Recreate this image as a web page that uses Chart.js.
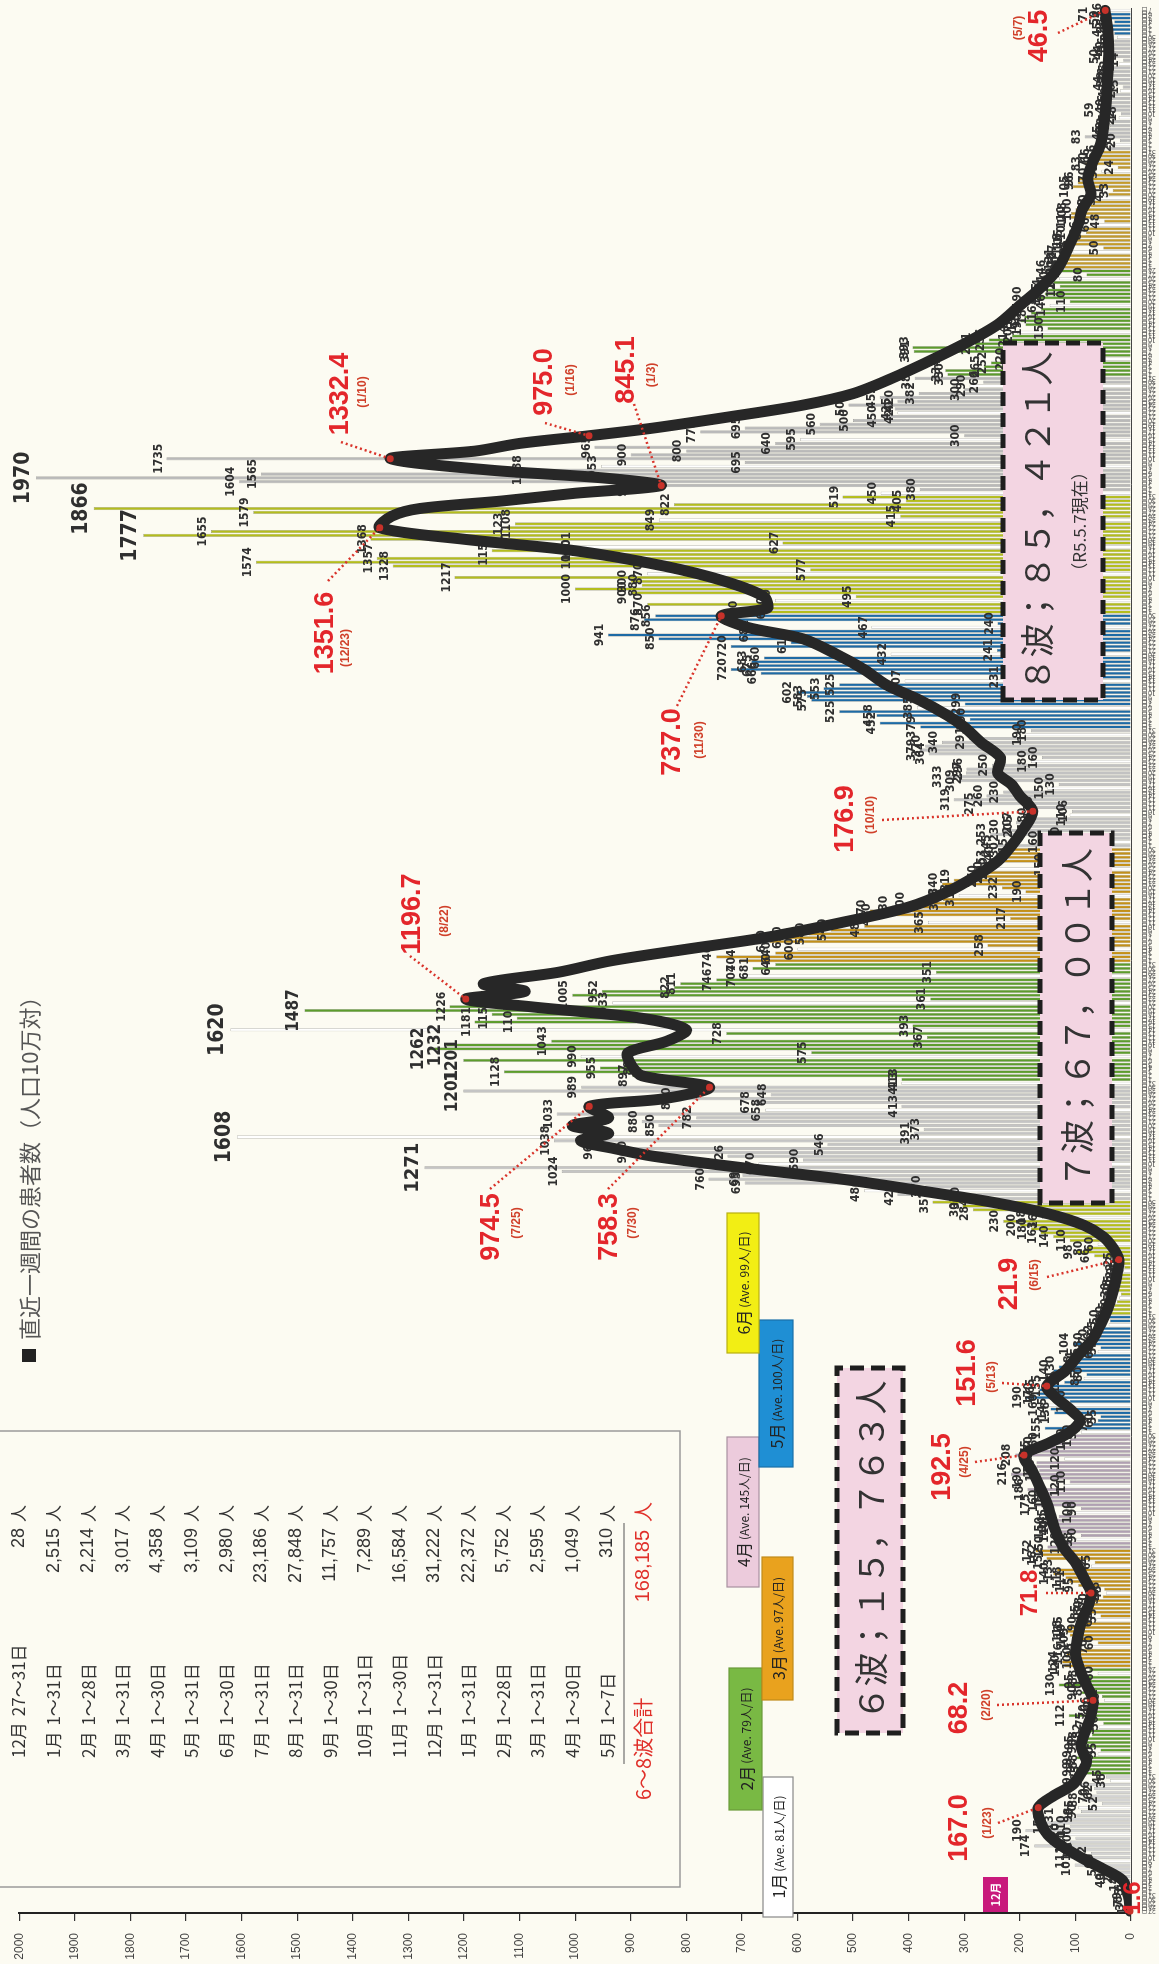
<!DOCTYPE html>
<html>
<head>
<meta charset="utf-8">
<script src="https://cdn.jsdelivr.net/npm/chart.js@4.4.1/dist/chart.umd.min.js"></script>
<style>
html, body { margin: 0; padding: 0; background: #fcfbf2; overflow: hidden; width: 1159px; height: 1964px; }
#wrap { position: absolute; left: 0; top: 0; width: 1964px; height: 1159px;
        transform-origin: 0 0; transform: translate(0, 1964px) rotate(-90deg); }
</style>
</head>
<body>
<div id="wrap"><canvas id="c" width="1964" height="1159"></canvas></div>
<script>
// 日別の陽性者数（R3.12.27〜R5.5.7）
const d2112 = [1, 3, 7, 8, 9];
const d2201 = [5, 6, 14, 40, 25, 38, 55, 101, 60, 111, 72, 98, 174, 110, 100, 120, 190, 110, 152, 131, 98, 90, 95, 52, 88, 70, 62, 66, 99, 38, 45];
const d2202 = [85, 99, 92, 88, 99, 60, 55, 90, 95, 88, 70, 82, 58, 50, 75, 112, 70, 62, 66, 48, 52, 90, 80, 130, 95, 88, 60, 75];
const d2203 = [120, 124, 100, 116, 95, 70, 60, 105, 110, 118, 115, 90, 62, 55, 85, 80, 78, 70, 51, 45, 48, 95, 111, 118, 140, 133, 72, 65, 152, 162, 172];
const d2204 = [150, 120, 98, 90, 140, 150, 140, 145, 130, 100, 90, 175, 160, 150, 150, 186, 120, 110, 190, 216, 165, 170, 170, 120, 208, 175, 170, 160, 110, 100];
const d2205 = [90, 155, 70, 60, 55, 138, 145, 160, 110, 190, 170, 165, 155, 120, 85, 80, 140, 130, 98, 94, 85, 60, 55, 104, 80, 70, 62, 55, 40, 38, 50];
const d2206 = [40, 35, 30, 25, 21, 18, 30, 28, 25, 22, 20, 14, 12, 22, 25, 66, 98, 80, 60, 110, 140, 163, 180, 200, 230, 160, 182, 284, 303, 357];
const d2207 = [300, 420, 480, 370, 695, 760, 699, 1024, 1271, 670, 590, 726, 900, 960, 546, 1038, 1608, 391, 373, 850, 880, 782, 1033, 658, 413, 678, 820, 648, 1201, 989, 413];
const d2208 = [413, 897, 1128, 955, 889, 1201, 990, 575, 1262, 1232, 1043, 367, 728, 1620, 393, 1181, 1105, 1150, 1487, 1226, 933, 361, 1005, 952, 822, 811, 746, 704, 351, 681, 640];
const d2209 = [704, 746, 640, 600, 258, 650, 620, 580, 540, 480, 365, 217, 460, 470, 430, 400, 338, 310, 190, 232, 340, 319, 270, 260, 250, 150, 253, 240, 230, 215];
const d2210 = [245, 160, 120, 253, 230, 205, 207, 180, 110, 106, 170, 275, 319, 260, 230, 150, 130, 309, 333, 297, 296, 250, 180, 160, 364, 379, 370, 340, 291, 190, 180];
const d2211 = [379, 452, 290, 458, 525, 385, 299, 575, 583, 602, 553, 525, 407, 231, 666, 720, 675, 683, 660, 432, 241, 720, 612, 850, 941, 681, 467, 240, 876, 856];
const d2212 = [700, 650, 870, 640, 495, 900, 1000, 880, 900, 1217, 870, 577, 1328, 1574, 1357, 1000, 1150, 1001, 627, 1368, 1777, 1655, 1123, 1108, 849, 415, 1579, 1866, 822, 405, 519];
const d2301 = [450, 380, 900, 1604, 1970, 1565, 1088, 953, 695, 1735, 900, 800, 965, 640, 595, 300, 775, 695, 560, 500, 450, 420, 425, 508, 420, 452, 382, 300, 290, 266, 389];
const d2302 = [330, 334, 265, 252, 220, 160, 391, 393, 281, 256, 214, 205, 150, 190, 199, 192, 180, 162, 146, 110, 190, 155, 154, 128, 140, 129, 80, 146];
const d2303 = [120, 128, 131, 127, 105, 50, 118, 115, 110, 81, 86, 66, 48, 110, 108, 100, 73, 70, 56, 41, 33, 105, 96, 96, 70, 53, 24, 83, 70, 66, 56];
const d2304 = [40, 28, 20, 83, 45, 40, 38, 35, 22, 18, 59, 40, 36, 34, 30, 20, 15, 44, 38, 36, 35, 32, 22, 14, 50, 44, 40, 36, 30, 25];
const d2305 = [30, 45, 38, 30, 50, 71, 46];

// 直近一週間の患者数（人口10万対）
const lineDates = ['2021-12-27','2021-12-31','2022-01-04','2022-01-07','2022-01-10','2022-01-13','2022-01-16','2022-01-19','2022-01-23','2022-01-26','2022-01-29',
  '2022-02-01','2022-02-04','2022-02-08','2022-02-12','2022-02-16','2022-02-20','2022-02-24','2022-02-28','2022-03-04','2022-03-09','2022-03-13','2022-03-17','2022-03-20','2022-03-24','2022-03-28',
  '2022-04-01','2022-04-06','2022-04-12','2022-04-17','2022-04-21','2022-04-25','2022-04-28','2022-05-01','2022-05-04','2022-05-07','2022-05-10','2022-05-13','2022-05-17','2022-05-21','2022-05-25','2022-05-29',
  '2022-06-03','2022-06-08','2022-06-12','2022-06-15','2022-06-18','2022-06-21','2022-06-24','2022-06-27','2022-06-30','2022-07-03','2022-07-06','2022-07-09','2022-07-12','2022-07-14','2022-07-16','2022-07-18','2022-07-20','2022-07-22','2022-07-25','2022-07-27','2022-07-30',
  '2022-08-02','2022-08-05','2022-08-08','2022-08-11','2022-08-14','2022-08-17','2022-08-20','2022-08-22','2022-08-24','2022-08-26','2022-08-29','2022-09-01','2022-09-04','2022-09-07','2022-09-11','2022-09-15','2022-09-19','2022-09-23','2022-09-27',
  '2022-10-01','2022-10-05','2022-10-10','2022-10-14','2022-10-17','2022-10-20','2022-10-24','2022-10-28','2022-11-01','2022-11-04','2022-11-08','2022-11-12','2022-11-16','2022-11-20','2022-11-24','2022-11-27','2022-11-30',
  '2022-12-02','2022-12-05','2022-12-09','2022-12-13','2022-12-17','2022-12-20','2022-12-23','2022-12-26','2022-12-28','2022-12-30','2023-01-01','2023-01-03','2023-01-05','2023-01-07','2023-01-10','2023-01-12','2023-01-14','2023-01-16','2023-01-18','2023-01-21','2023-01-24','2023-01-27','2023-01-31',
  '2023-02-04','2023-02-09','2023-02-14','2023-02-19','2023-02-24','2023-03-01','2023-03-07','2023-03-12','2023-03-16','2023-03-20','2023-03-24','2023-03-28','2023-04-02','2023-04-08','2023-04-14','2023-04-20','2023-04-26','2023-05-02','2023-05-07'];
const lineValues = [1.6, 5, 15, 50, 90, 125, 150, 162, 167.0, 140, 105,
  90, 80, 90, 82, 72, 68.2, 80, 92, 100, 95, 88, 76, 71.8, 85, 100,
  122, 138, 150, 165, 178, 192.5, 150, 110, 92, 110, 135, 151.6, 118, 95, 70, 55,
  40, 30, 24, 21.9, 32, 50, 85, 150, 250, 380, 520, 700, 860, 930, 990, 940, 1005, 940, 974.5, 840, 758.3,
  880, 900, 905, 835, 800, 880, 1080, 1196.7, 1090, 1165, 1030, 935, 800, 660, 520, 400, 330, 280, 240,
  215, 195, 176.9, 200, 215, 240, 235, 270, 300, 330, 380, 440, 480, 530, 590, 690, 737.0,
  655, 660, 730, 840, 1000, 1200, 1351.6, 1330, 1280, 1130, 1000, 845.1, 950, 1150, 1332.4, 1180, 1100, 975.0, 860, 720, 590, 500, 430,
  370, 300, 240, 200, 160, 130, 110, 95, 88, 72, 78, 70, 55, 48, 44, 42, 40, 42, 46.5];

// 表（月別陽性者数）
const tableMonth = ['12月','1月','2月','3月','4月','5月','6月','7月','8月','9月','10月','11月','12月','1月','2月','3月','4月','5月'];
const tableRange = ['27～31日','1～31日','1～28日','1～31日','1～30日','1～31日','1～30日','1～31日','1～31日','1～30日','1～31日','1～30日','1～31日','1～31日','1～28日','1～31日','1～30日','1～7日'];
const tableCount = ['28','2,515','2,214','3,017','4,358','3,109','2,980','23,186','27,848','11,757','7,289','16,584','31,222','22,372','5,752','2,595','1,049','310'];
const tableTotal = ['6～8波合計', '168,185'];

const aveMonth = ['1月','2月','3月','4月','5月','6月'];
const aveText = ['(Ave. 81人/日)','(Ave. 79人/日)','(Ave. 97人/日)','(Ave. 145人/日)','(Ave. 100人/日)','(Ave. 99人/日)'];
const waveText = ['６波；１５，７６３人', '７波；６７，００１人', '８波；８５，４２１人'];

const segs = [[2021,12,27,d2112],[2022,1,1,d2201],[2022,2,1,d2202],[2022,3,1,d2203],[2022,4,1,d2204],[2022,5,1,d2205],[2022,6,1,d2206],
  [2022,7,1,d2207],[2022,8,1,d2208],[2022,9,1,d2209],[2022,10,1,d2210],[2022,11,1,d2211],[2022,12,1,d2212],
  [2023,1,1,d2301],[2023,2,1,d2302],[2023,3,1,d2303],[2023,4,1,d2304],[2023,5,1,d2305]];
const labels = [], cases = [];
segs.forEach(([y, m, from, vals]) => vals.forEach((v, k) => {
  labels.push(y + '-' + String(m).padStart(2, '0') + '-' + String(from + k).padStart(2, '0'));
  cases.push(v);
}));

const monthFill = {
  '2021-12': '#cdcdcd', '2022-01': '#d3d3d3', '2022-02': '#5c9c2c', '2022-03': '#c39018', '2022-04': '#b0a0b2',
  '2022-05': '#1d6aa5', '2022-06': '#b4bd1c', '2022-07': '#c4c4c4', '2022-08': '#5c9c2c', '2022-09': '#c39018',
  '2022-10': '#c2c2c2', '2022-11': '#1d6aa5', '2022-12': '#b4bd1c', '2023-01': '#b9b9b9', '2023-02': '#5c9c2c',
  '2023-03': '#c39a2a', '2023-04': '#bdbdbd', '2023-05': '#1d6aa5'
};
const barFill = labels.map(l => {
  const p = l.split('-').map(Number);
  if (new Date(p[0], p[1] - 1, p[2]).getDay() === 0) return '#ffffff';
  return monthFill[l.slice(0, 7)];
});
const bigLabel = {1970: 21, 1866: 21, 1777: 21, 1608: 21, 1620: 21, 1271: 20, 1487: 17, 1262: 17, 1232: 17, 1201: 17};

// 赤字の注記（位置はキャンバス座標）
const notes = [
  {date: '2021-12-27', text: '1.6', tx: 66, ty: 1133},
  {date: '2022-01-23', text: '167.0', d: '(1/23)', tx: 136, ty: 960, dx: 141, dy: 988, lx: 141, ly: 998},
  {date: '2022-02-20', text: '68.2', d: '(2/20)', tx: 256, ty: 960, dx: 259, dy: 987, lx: 259, ly: 997},
  {date: '2022-03-20', text: '71.8', tx: 371, ty: 1030, lx: 371, ly: 1046},
  {date: '2022-04-25', text: '192.5', d: '(4/25)', tx: 497, ty: 943, dx: 502, dy: 965, lx: 502, ly: 975},
  {date: '2022-05-13', text: '151.6', d: '(5/13)', tx: 591, ty: 968, dx: 587, dy: 992, lx: 581, ly: 1002},
  {date: '2022-06-15', text: '21.9', d: '(6/15)', tx: 680, ty: 1010, dx: 689, dy: 1035, lx: 687, ly: 1047},
  {date: '2022-07-25', text: '974.5', d: '(7/25)', tx: 737, ty: 492, dx: 741, dy: 517, lx: 775, ly: 490},
  {date: '2022-07-30', text: '758.3', d: '(7/30)', tx: 737, ty: 610, dx: 741, dy: 633, lx: 775, ly: 608},
  {date: '2022-08-22', text: '1196.7', d: '(8/22)', tx: 1050, ty: 413, dx: 1043, dy: 445, lx: 1008, ly: 410},
  {date: '2022-10-10', text: '176.9', d: '(10/10)', tx: 1145, ty: 846, dx: 1149, dy: 871, lx: 1144, ly: 882},
  {date: '2022-11-30', text: '737.0', d: '(11/30)', tx: 1222, ty: 673, dx: 1224, dy: 700, lx: 1258, ly: 677},
  {date: '2022-12-23', text: '1351.6', d: '(12/23)', tx: 1331, ty: 326, dx: 1316, dy: 346, lx: 1383, ly: 328},
  {date: '2023-01-10', text: '1332.4', d: '(1/10)', tx: 1570, ty: 341, dx: 1572, dy: 363, lx: 1522, ly: 341},
  {date: '2023-01-16', text: '975.0', d: '(1/16)', tx: 1582, ty: 545, dx: 1584, dy: 571, lx: 1541, ly: 545},
  {date: '2023-01-03', text: '845.1', d: '(1/3)', tx: 1594, ty: 627, dx: 1589, dy: 652, lx: 1560, ly: 634},
  {date: '2023-05-07', text: '46.5', d: '(5/7)', tx: 1928, ty: 1040, dx: 1936, dy: 1019, lx: 1931, ly: 1058}
];
const aveBox = [
  {x: 47, y: 763, w: 140, h: 30, fill: '#ffffff', stroke: '#888'},
  {x: 154, y: 729, w: 142, h: 33, fill: '#79b944', stroke: '#6a9a3a'},
  {x: 264, y: 762, w: 143, h: 31, fill: '#e9a21e', stroke: '#c08a1a'},
  {x: 377, y: 727, w: 150, h: 32, fill: '#eccbdc', stroke: '#a890a0'},
  {x: 497, y: 759, w: 147, h: 34, fill: '#1f8fd4', stroke: '#1a70a8'},
  {x: 611, y: 727, w: 140, h: 32, fill: '#f2ee14', stroke: '#b8b010'}
];
const waveBox = [
  {x: 231, y: 837, w: 365, h: 66},
  {x: 761, y: 1040, w: 370, h: 72},
  {x: 1264, y: 1003, w: 357, h: 100, sub: '（R5.5.7現在）'}
];
const JP = "'Noto Sans CJK JP', 'Noto Sans', sans-serif";

const bg = {
  id: 'bg',
  beforeDraw(chart) {
    const ctx = chart.ctx;
    ctx.save();
    ctx.fillStyle = '#fcfbf2';
    ctx.fillRect(0, 0, chart.width, chart.height);
    ctx.restore();
  }
};

const barLabels = {
  id: 'barLabels',
  afterDatasetDraw(chart, args) {
    if (args.index !== 1) return;
    const ctx = chart.ctx;
    ctx.save();
    ctx.textAlign = 'center';
    ctx.textBaseline = 'bottom';
    ctx.fillStyle = '#2f2f2f';
    args.meta.data.forEach((el, i) => {
      const v = cases[i];
      const sz = bigLabel[v] || 12;
      ctx.font = 'bold ' + sz + "px 'Liberation Sans Narrow', 'DejaVu Sans Condensed', sans-serif";
      ctx.fillText(String(v), el.x, el.y - 2);
    });
    ctx.restore();
  }
};

const extras = {
  id: 'extras',
  afterDraw(chart) {
    const ctx = chart.ctx, xs = chart.scales.x, ys = chart.scales.y;
    ctx.save();

    // 表
    ctx.strokeStyle = '#9a9a9a';
    ctx.lineWidth = 1.5;
    ctx.beginPath();
    ctx.moveTo(77, 0); ctx.lineTo(77, 680); ctx.lineTo(533, 680); ctx.lineTo(533, 0);
    ctx.stroke();
    ctx.textBaseline = 'middle';
    tableMonth.forEach((m, k) => {
      const y = 19 + k * 34.6;
      ctx.fillStyle = '#333';
      ctx.font = '17px ' + JP;
      ctx.textAlign = 'left';
      ctx.fillText(m, 206, y);
      const mx = 206 + ctx.measureText(m).width + 6;
      ctx.fillText(tableRange[k], Math.max(238, mx), y);
      ctx.textAlign = 'right';
      ctx.font = "18px 'Liberation Sans', sans-serif";
      ctx.fillText(tableCount[k], 436, y);
      ctx.textAlign = 'left';
      ctx.font = '17px ' + JP;
      ctx.fillText('人', 442, y);
    });
    ctx.strokeStyle = '#555';
    ctx.lineWidth = 1.2;
    ctx.beginPath(); ctx.moveTo(200, 624); ctx.lineTo(441, 624); ctx.stroke();
    ctx.fillStyle = '#e0302a';
    ctx.font = '20px ' + JP;
    ctx.textAlign = 'left';
    ctx.fillText(tableTotal[0], 164, 643);
    ctx.textAlign = 'right';
    ctx.font = "20px 'Liberation Sans', sans-serif";
    ctx.fillText(tableTotal[1], 434, 643);
    ctx.textAlign = 'left';
    ctx.font = '20px ' + JP;
    ctx.fillText('人', 442, 643);

    // 凡例
    ctx.fillStyle = '#222';
    ctx.fillRect(602, 22, 13, 14);
    ctx.fillStyle = '#555';
    ctx.font = '22px ' + JP;
    ctx.fillText('直近一週間の患者数（人口10万対）', 624, 30);

    // 月平均の枠
    aveBox.forEach((b, k) => {
      ctx.fillStyle = b.fill;
      ctx.fillRect(b.x, b.y, b.w, b.h);
      ctx.strokeStyle = b.stroke;
      ctx.lineWidth = 1.2;
      ctx.strokeRect(b.x, b.y, b.w, b.h);
      ctx.fillStyle = '#222';
      ctx.font = '16px ' + JP;
      const w1 = ctx.measureText(aveMonth[k]).width;
      ctx.font = '12px ' + JP;
      const w2 = ctx.measureText(aveText[k]).width;
      const sx = b.x + (b.w - w1 - w2 - 2) / 2;
      ctx.textAlign = 'left';
      ctx.font = '16px ' + JP;
      ctx.fillText(aveMonth[k], sx, b.y + b.h / 2 + 1);
      ctx.font = '12px ' + JP;
      ctx.fillText(aveText[k], sx + w1 + 2, b.y + b.h / 2 + 1);
    });

    // 12月の札
    ctx.fillStyle = '#c8197c';
    ctx.fillRect(52, 983, 35, 25);
    ctx.fillStyle = '#fff';
    ctx.font = 'bold 11px ' + JP;
    ctx.textAlign = 'center';
    ctx.fillText('12月', 69.5, 996);

    // 波ごとの枠
    waveBox.forEach((b, k) => {
      ctx.fillStyle = '#f3d5e2';
      ctx.fillRect(b.x, b.y, b.w, b.h);
      ctx.setLineDash([14, 7]);
      ctx.lineWidth = 5;
      ctx.strokeStyle = '#1e1e1e';
      ctx.strokeRect(b.x, b.y, b.w, b.h);
      ctx.setLineDash([]);
      ctx.fillStyle = '#333';
      ctx.textAlign = 'center';
      ctx.font = '34px ' + JP;
      ctx.fillText(waveText[k], b.x + b.w / 2, b.sub ? b.y + 34 : b.y + b.h / 2 + 1);
      if (b.sub) {
        ctx.font = '17px ' + JP;
        ctx.fillText(b.sub, b.x + b.w / 2, b.y + 77);
      }
    });

    // 赤の引出線・点・数値
    notes.forEach(n => {
      const i = labels.indexOf(n.date);
      const v = lineValues[lineDates.indexOf(n.date)];
      const px = xs.getPixelForValue(i), py = ys.getPixelForValue(v);
      if (n.lx !== undefined) {
        ctx.strokeStyle = '#d9342b';
        ctx.lineWidth = 2.5;
        ctx.setLineDash([2, 3]);
        ctx.beginPath(); ctx.moveTo(n.lx, n.ly); ctx.lineTo(px, py); ctx.stroke();
        ctx.setLineDash([]);
      }
      ctx.beginPath();
      ctx.arc(px, py, 3.5, 0, Math.PI * 2);
      ctx.fillStyle = '#c8322a';
      ctx.fill();
      ctx.textAlign = 'center';
      ctx.fillStyle = '#e3262b';
      ctx.font = (n.d ? 'bold 27px ' : 'bold 24px ') + "'Liberation Sans', sans-serif";
      ctx.fillText(n.text, n.tx, n.ty);
      if (n.d) {
        ctx.font = "bold 12px 'Liberation Sans', sans-serif";
        ctx.fillStyle = '#d0402a';
        ctx.fillText(n.d, n.dx, n.dy);
      }
    });
    ctx.restore();
  }
};

new Chart(document.getElementById('c'), {
  type: 'bar',
  data: {
    labels: labels,
    datasets: [
      {
        type: 'line',
        label: '直近一週間の患者数（人口10万対）',
        data: lineDates.map((d, i) => ({x: d, y: lineValues[i]})),
        borderColor: '#272727',
        borderWidth: 11,
        pointRadius: 0,
        tension: 0.3,
        borderJoinStyle: 'round',
        borderCapStyle: 'round',
        fill: false,
        order: 0
      },
      {
        type: 'bar',
        label: '陽性者数',
        data: cases,
        backgroundColor: barFill,
        borderColor: 'rgba(50,50,50,0.6)',
        borderWidth: 0.5,
        barPercentage: 0.8,
        categoryPercentage: 1,
        order: 1
      }
    ]
  },
  options: {
    responsive: false,
    animation: false,
    devicePixelRatio: 1,
    layout: {padding: {top: 15, right: 6, left: 0, bottom: 0}},
    plugins: {legend: {display: false}, tooltip: {enabled: false}},
    scales: {
      x: {
        offset: true,
        grid: {display: false},
        border: {display: true, color: '#444', width: 1},
        ticks: {
          autoSkip: false, minRotation: 90, maxRotation: 90, padding: 2,
          font: {size: 7, family: JP}, color: '#555',
          callback: function (v, i) { return Number(labels[i].slice(8)) + '日'; }
        },
        afterFit: s => { s.height = 28; }
      },
      y: {
        min: 0, max: 2000,
        ticks: {stepSize: 100, padding: 12, color: '#444', font: {size: 12, family: "'Liberation Sans', sans-serif"},
                callback: v => String(v)},
        grid: {drawOnChartArea: false, tickLength: 8, color: '#333', lineWidth: 1.2},
        border: {color: '#222', width: 2},
        afterFit: s => { s.width = 51; }
      }
    }
  },
  plugins: [bg, barLabels, extras]
});
</script>
</body>
</html>
